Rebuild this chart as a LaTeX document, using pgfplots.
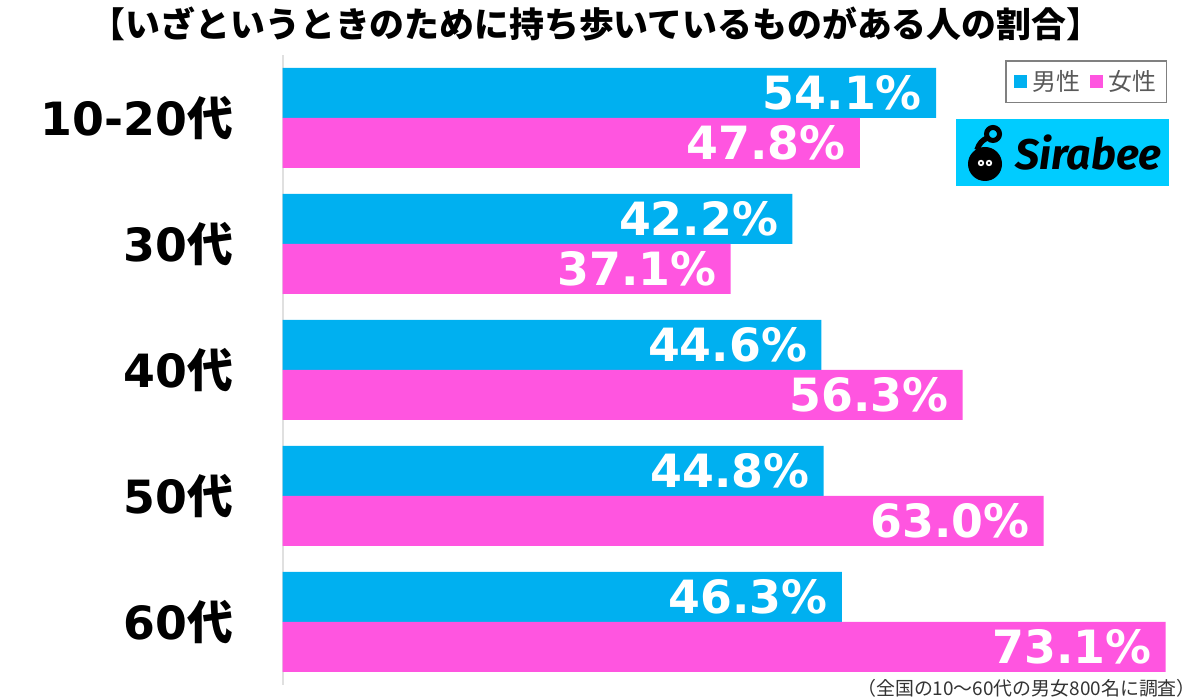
\documentclass[border=0pt]{standalone}
\usepackage{fontspec}
\usepackage{pgfplots}
\pgfplotsset{compat=1.18}
\setmainfont{Noto Sans CJK JP}
\newfontfamily\jp{Noto Sans CJK JP}
\newfontfamily\dv{DejaVu Sans}
\newfontfamily\fira{Fira Sans}
\definecolor{cblue}{HTML}{00B0F0}
\definecolor{cpink}{HTML}{FF55E0}
\definecolor{ccyan}{HTML}{00CCFF}
\definecolor{legtext}{HTML}{595959}
\begin{document}
\begin{tikzpicture}[x=1bp,y=1bp]
\useasboundingbox (0,0) rectangle (1200,699);
\begin{axis}[
  at={(282.5bp,14bp)}, anchor=south west, scale only axis,
  width=900bp, height=630bp,
  xmin=0, xmax=74.503, ymin=-0.5, ymax=4.5,
  xbar, bar width=50bp,
  axis x line=none, axis y line=left,
  y axis line style={-, draw=black!12, line width=2bp},
  ytick={0,1,2,3,4},
  yticklabels={60{\jp\bfseries 代},50{\jp\bfseries 代},40{\jp\bfseries 代},30{\jp\bfseries 代},10-20{\jp\bfseries 代}},
  major tick length=0pt,
  yticklabel style={font=\dv\bfseries\fontsize{46}{46}\selectfont, anchor=east, inner sep=0pt, xshift=-49bp, text=black},
  /pgf/number format/assume math mode=true,
  nodes near coords={\pgfmathprintnumber[fixed,zerofill,precision=1,assume math mode=true]{\pgfplotspointmeta}\%},
  every node near coord/.append style={anchor=east, xshift=-14bp, inner sep=0pt, text=white, font=\dv\bfseries\fontsize{46}{46}\selectfont},
  legend columns=2,
  legend cell align=left,
  legend image code/.code={\fill[#1] (0bp,-6.5bp) rectangle (13bp,6.5bp);},
  legend style={at={(0.983,0.992)}, anchor=north east, draw=black!50, line width=1.5bp,
    font=\jp\fontsize{24}{24}\selectfont, text=legtext, inner xsep=8bp, inner ysep=8bp,
    /tikz/every odd column/.append style={column sep=4bp},
    /tikz/every even column/.append style={column sep=7bp}},
]
\addplot[fill=cblue, draw=none, bar shift=25bp] coordinates {(54.1,4) (42.2,3) (44.6,2) (44.8,1) (46.3,0)};
\addplot[fill=cpink, draw=none, bar shift=-25bp] coordinates {(47.8,4) (37.1,3) (56.3,2) (63.0,1) (73.1,0)};
\legend{男性,女性}
\end{axis}
% title
\node[font=\jp\bfseries\fontsize{35}{35}\selectfont] at (596,675) {【いざというときのために持ち歩いているものがある人の割合】};
% logo
\fill[ccyan] (956,513) rectangle (1169,580);
\fill[black] (985,535) circle (17);
\draw[black, line width=5.5bp] (977,549) .. controls (979,556) and (983,559) .. (987,561);
\draw[black, line width=5bp] (993,565) circle (6.5);
\fill[white] (981,536) circle (3.2);
\fill[white] (989,536) circle (3.2);
\fill[black] (981,536) circle (1.4);
\fill[black] (989,536) circle (1.4);
\node[anchor=west, inner sep=0pt, font=\fira\bfseries\itshape\fontsize{43}{43}\selectfont] at (1015,546) {Sirabee};
% footnote
\node[anchor=east, inner sep=0pt, text=black!80, font=\jp\fontsize{19}{19}\selectfont] at (1196,11) {（全国の10〜60代の男女800名に調査）};
\end{tikzpicture}
\end{document}
